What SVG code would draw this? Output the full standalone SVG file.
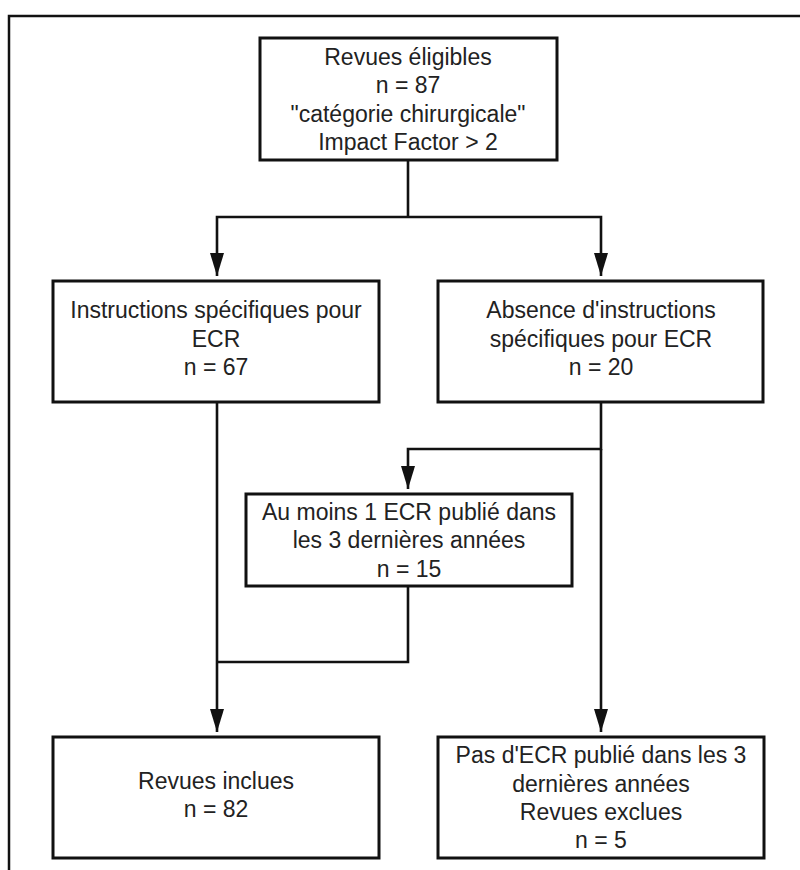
<svg xmlns="http://www.w3.org/2000/svg" width="800" height="870" viewBox="0 0 800 870">
<defs>
<style>
.box{fill:#fff;stroke:#111;stroke-width:3}
.t{font-family:"Liberation Sans",Arial,sans-serif;font-size:23px;fill:#222;text-anchor:middle}
.c{fill:none;stroke:#111;stroke-width:2.6}
.frame{fill:none;stroke:#111;stroke-width:2.5}
</style>
<marker id="ah" markerUnits="userSpaceOnUse" markerWidth="24" markerHeight="15" refX="23" refY="7" orient="auto">
<path d="M0,0 L23,7 L0,14 z" fill="#111"/>
</marker>
</defs>
<rect width="800" height="870" fill="#fff"/>
<path class="frame" d="M800 16 H9 V870"/>
<g id="connectors">
<path class="c" d="M408 160 V217"/>
<path class="c" d="M408 217 H217 V276" marker-end="url(#ah)"/>
<path class="c" d="M408 217 H601 V276" marker-end="url(#ah)"/>
<path class="c" d="M601 402 V449 H408 V489" marker-end="url(#ah)"/>
<path class="c" d="M601 449 V732" marker-end="url(#ah)"/>
<path class="c" d="M217 402 V732" marker-end="url(#ah)"/>
<path class="c" d="M408 586 V662 H217"/>
</g>
<g id="n1">
<rect class="box" x="260" y="38" width="297" height="122"/>
<text class="t" x="408" y="65">Revues éligibles</text>
<text class="t" x="408" y="93">n = 87</text>
<text class="t" x="408" y="122">"catégorie chirurgicale"</text>
<text class="t" x="408" y="150">Impact Factor &gt; 2</text>
</g>
<g id="n2">
<rect class="box" x="53" y="281" width="326" height="121"/>
<text class="t" x="216" y="318">Instructions spécifiques pour</text>
<text class="t" x="216" y="347">ECR</text>
<text class="t" x="216" y="375">n = 67</text>
</g>
<g id="n3">
<rect class="box" x="438" y="281" width="325" height="121"/>
<text class="t" x="601" y="318">Absence d'instructions</text>
<text class="t" x="601" y="347">spécifiques pour ECR</text>
<text class="t" x="601" y="375">n = 20</text>
</g>
<g id="n4">
<rect class="box" x="246" y="494" width="326" height="92"/>
<text class="t" x="409" y="520">Au moins 1 ECR publié dans</text>
<text class="t" x="409" y="548">les 3 dernières années</text>
<text class="t" x="409" y="577">n = 15</text>
</g>
<g id="n5">
<rect class="box" x="53" y="737" width="326" height="121"/>
<text class="t" x="216" y="789">Revues inclues</text>
<text class="t" x="216" y="817">n = 82</text>
</g>
<g id="n6">
<rect class="box" x="438" y="737" width="326" height="121"/>
<text class="t" x="601" y="763">Pas d'ECR publié dans les 3</text>
<text class="t" x="601" y="792">dernières années</text>
<text class="t" x="601" y="820">Revues exclues</text>
<text class="t" x="601" y="848">n = 5</text>
</g>
</svg>
